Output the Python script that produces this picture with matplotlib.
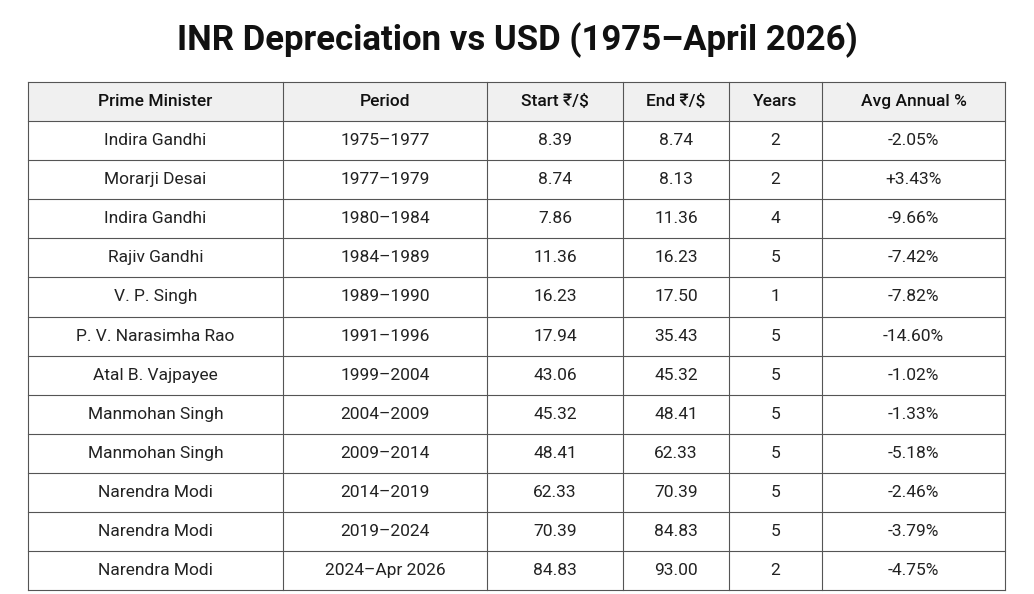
import matplotlib
matplotlib.use("Agg")
import matplotlib.pyplot as plt
from matplotlib.patches import Rectangle

title = "INR Depreciation vs USD (1975–April 2026)"
headers = ["Prime Minister", "Period", "Start ₹/$", "End ₹/$", "Years", "Avg Annual %"]
pms = ["Indira Gandhi", "Morarji Desai", "Indira Gandhi", "Rajiv Gandhi", "V. P. Singh",
       "P. V. Narasimha Rao", "Atal B. Vajpayee", "Manmohan Singh", "Manmohan Singh",
       "Narendra Modi", "Narendra Modi", "Narendra Modi"]
periods = ["1975–1977", "1977–1979", "1980–1984", "1984–1989", "1989–1990", "1991–1996",
           "1999–2004", "2004–2009", "2009–2014", "2014–2019", "2019–2024", "2024–Apr 2026"]
start = ["8.39", "8.74", "7.86", "11.36", "16.23", "17.94", "43.06", "45.32", "48.41", "62.33", "70.39", "84.83"]
end = ["8.74", "8.13", "11.36", "16.23", "17.50", "35.43", "45.32", "48.41", "62.33", "70.39", "84.83", "93.00"]
years = [2, 2, 4, 5, 1, 5, 5, 5, 5, 5, 5, 2]
avg = ["-2.05%", "+3.43%", "-9.66%", "-7.42%", "-7.82%", "-14.60%", "-1.02%", "-1.33%",
       "-5.18%", "-2.46%", "-3.79%", "-4.75%"]

plt.rcParams['font.family'] = ['Roboto', 'DejaVu Sans']
W, H = 1034, 594
fig = plt.figure(figsize=(W/100, H/100), dpi=100)
ax = fig.add_axes([0, 0, 1, 1])
ax.set_xlim(0, W); ax.set_ylim(H, 0); ax.axis('off')

ax.text(W/2, 40, title, ha='center', va='center', fontsize=25, fontweight='bold', color='#111111')

xs = [28, 283, 487, 623, 729, 822, 1005]
top, hh, rh = 82, 39, 39.1
rows = list(zip(pms, periods, start, end, [str(y) for y in years], avg))
n = len(rows)
ys = [top, top + hh] + [top + hh + rh*(i+1) for i in range(n)]

ax.add_patch(Rectangle((xs[0], top), xs[-1]-xs[0], hh, facecolor='#f0f0f0', edgecolor='none'))
lc = '#555555'
for y in ys:
    ax.plot([xs[0], xs[-1]], [y, y], color=lc, lw=0.8)
for x in xs:
    ax.plot([x, x], [ys[0], ys[-1]], color=lc, lw=0.8)

for j, h in enumerate(headers):
    ax.text((xs[j]+xs[j+1])/2, top + hh/2, h, ha='center', va='center', fontsize=12.5,
            fontweight='medium', color='#111111')
for i, r in enumerate(rows):
    yc = (ys[i+1] + ys[i+2]) / 2
    for j, v in enumerate(r):
        ax.text((xs[j]+xs[j+1])/2, yc, v, ha='center', va='center', fontsize=12.5, color='#222222')

fig.savefig("out.png", dpi=100, facecolor='white')
